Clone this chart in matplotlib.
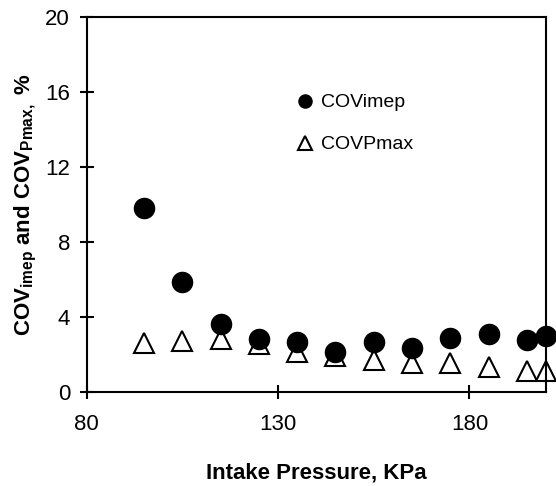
import matplotlib.pyplot as plt
import numpy as np

plt.rcParams['font.family'] = ['Liberation Sans', 'DejaVu Sans']
plt.rcParams['mathtext.fontset'] = 'custom'
plt.rcParams['mathtext.rm'] = 'Liberation Sans'
plt.rcParams['mathtext.bf'] = 'Liberation Sans:bold'

# intake pressure (KPa)
pressure = [95, 105, 115, 125, 135, 145, 155, 165, 175, 185, 195, 200]
cov_imep = [9.8, 5.85, 3.6, 2.8, 2.65, 2.13, 2.65, 2.35, 2.88, 3.1, 2.78, 3.0]
cov_pmax = [2.6, 2.7, 2.8, 2.56, 2.12, 1.93, 1.7, 1.51, 1.54, 1.31, 1.09, 1.09]

x_ticks = [80, 130, 180]
y_ticks = [0, 4, 8, 12, 16, 20]

fig = plt.figure(figsize=(5.56, 4.86), dpi=100)
ax = fig.add_axes([0.156, 0.194, 0.826, 0.771])

ax.plot(pressure, cov_imep, linestyle='none', marker='o', markersize=14.5,
        color='black', label='COVimep', clip_on=False, zorder=3)
ax.plot(pressure, cov_pmax, linestyle='none', marker='^', markersize=14.5,
        markerfacecolor='white', markeredgecolor='black', markeredgewidth=1.5,
        label='COVPmax', clip_on=False, zorder=2)

ax.set_xlim(80, 200)
ax.set_ylim(0, 20)
ax.set_xticks(x_ticks)
ax.set_yticks(y_ticks)

for s in ax.spines.values():
    s.set_linewidth(1.5)
ax.tick_params(axis='both', direction='inout', length=10, width=1.5, labelsize=16)
ax.tick_params(axis='x', pad=11)
ax.tick_params(axis='y', pad=7)

ax.set_xlabel('Intake Pressure, KPa', fontsize=16, fontweight='bold')
ax.xaxis.set_label_coords(0.5, -0.19)
ax.set_ylabel(r'$\mathbf{COV_{imep}}$ and $\mathbf{COV_{Pmax,}}$ %',
              fontsize=16, fontweight='bold')
ax.yaxis.set_label_coords(-0.105, 0.5)

ax.legend(loc='upper left', bbox_to_anchor=(0.454, 0.795), frameon=False,
          fontsize=14, markerscale=0.65, handlelength=1.0, handletextpad=0.32,
          labelspacing=1.25, borderpad=0, borderaxespad=0)

fig.savefig('out.png', dpi=100)
